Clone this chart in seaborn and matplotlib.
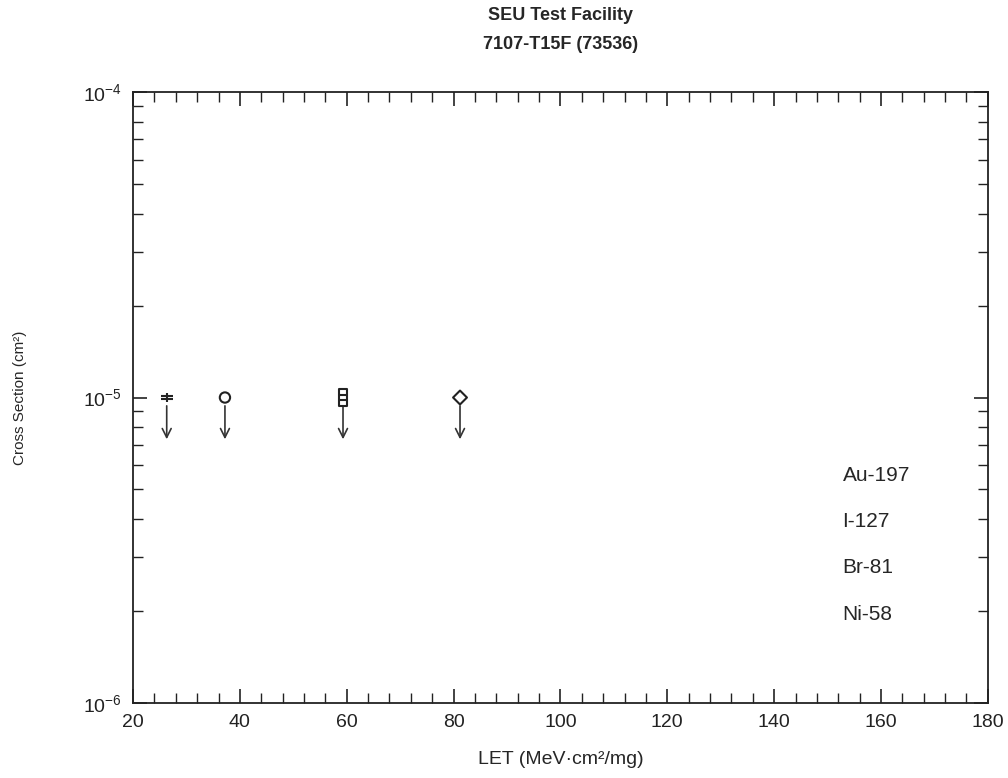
import numpy as np
import pandas as pd
import seaborn as sns
import matplotlib
matplotlib.use("Agg")
import matplotlib.pyplot as plt
from matplotlib.path import Path

# ions, LET values and upper-limit cross sections
ions = ["Ni-58", "Br-81", "I-127", "Au-197"]
let_values = [26.3, 37.2, 59.3, 81.2]
cross_section = [1.0e-5, 1.0e-5, 1.0e-5, 1.0e-5]
arrow_tip = [7.3e-6, 7.3e-6, 7.3e-6, 7.3e-6]
legend_order = ["Au-197", "I-127", "Br-81", "Ni-58"]

sns.set_style("ticks")
plt.rcParams['font.family'] = ['Liberation Sans', 'DejaVu Sans']
plt.rcParams['mathtext.fontset'] = 'custom'
plt.rcParams['mathtext.rm'] = 'Liberation Sans'

# marker like a cross with two bars
bars = Path([(-1, 0.22), (1, 0.22), (-1, -0.22), (1, -0.22), (0, 0.75), (0, -0.75)],
            [Path.MOVETO, Path.LINETO, Path.MOVETO, Path.LINETO, Path.MOVETO, Path.LINETO])
# tall box with inner lines
sq = Path([(-0.5, -1), (0.5, -1), (0.5, 1), (-0.5, 1), (-0.5, -1),
           (-0.5, 0.33), (0.5, 0.33), (-0.5, -0.33), (0.5, -0.33)],
          [Path.MOVETO, Path.LINETO, Path.LINETO, Path.LINETO, Path.CLOSEPOLY,
           Path.MOVETO, Path.LINETO, Path.MOVETO, Path.LINETO])

df = pd.DataFrame({"ion": ions, "LET": let_values, "xs": cross_section})

fig = plt.figure(figsize=(10.08, 7.78), dpi=100)
ax = fig.add_axes([0.132, 0.0964, 0.848, 0.7853])

# arrows for upper limits
for x, y0, y1 in zip(let_values, cross_section, arrow_tip):
    ax.annotate("", xy=(x, y1), xytext=(x, y0),
                arrowprops=dict(arrowstyle="->", color="#333333", lw=1.2,
                                mutation_scale=16, shrinkA=6, shrinkB=0))

sns.scatterplot(data=df, x="LET", y="xs", style="ion", style_order=ions,
                markers={"Ni-58": bars, "Br-81": "o", "I-127": sq, "Au-197": "D"},
                size="ion", sizes={"Ni-58": 75, "Br-81": 55, "I-127": 160, "Au-197": 50},
                facecolor="white", edgecolor="#222222", linewidth=1.5,
                color="#222222", legend=False, ax=ax, zorder=3)

ax.set_yscale("log")
ax.set_xlim(20, 180)
ax.set_ylim(1e-6, 1e-4)
ax.set_xticks(np.arange(20, 181, 20))
ax.xaxis.set_minor_locator(matplotlib.ticker.MultipleLocator(4))
ax.tick_params(which="both", direction="in", top=True, right=True, colors="#222222")
ax.tick_params(which="major", length=10, width=1.2, labelsize=14, pad=8)
ax.tick_params(which="minor", length=7, width=1.0)
for sp in ax.spines.values():
    sp.set_linewidth(1.3)
    sp.set_color("#222222")

ax.set_xlabel("LET (MeV·cm²/mg)", fontsize=14, labelpad=14)
ax.set_ylabel("Cross Section (cm²)", fontsize=11, labelpad=40)

fig.text(0.556, 0.980, "SEU Test Facility", ha="center", va="center",
         fontsize=13, fontweight="bold")
fig.text(0.556, 0.943, "7107-T15F (73536)", ha="center", va="center",
         fontsize=13, fontweight="bold")

for i, name in enumerate(legend_order):
    ax.text(0.830, 0.372 - i * 0.0755, name, transform=ax.transAxes,
            fontsize=15, va="center", ha="left")

fig.savefig("out.png", dpi=100)
